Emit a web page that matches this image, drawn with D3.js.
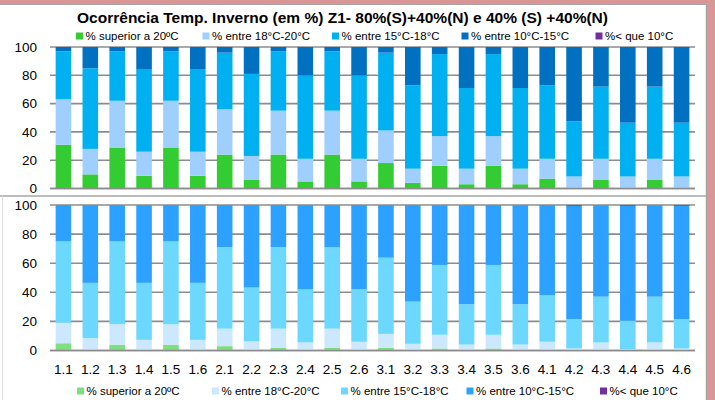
<!DOCTYPE html>
<html><head><meta charset="utf-8">
<script src="https://cdn.jsdelivr.net/npm/d3@7"></script>
<style>
html,body{margin:0;padding:0;background:#d99694;}
svg{display:block;font-family:"Liberation Sans",Arial,sans-serif;}
</style></head>
<body>
<svg id="c" width="715" height="400"></svg>
<script>
const categories = ["1.1","1.2","1.3","1.4","1.5","1.6","2.1","2.2","2.3","2.4","2.5","2.6","3.1","3.2","3.3","3.4","3.5","3.6","4.1","4.2","4.3","4.4","4.5","4.6"];
const seriesNames = ["% superior a 20ºC","% entre 18°C-20°C","% entre 15°C-18°C","% entre 10°C-15°C","%< que 10°C"];
const yTicks = [0,20,40,60,80,100];

// Top chart: 80%(S)+40%(N)
const topSup20  = [31,10,29,9,29,9,24,6,24,5,24,5,18,4,16,3,16,3,7,0.5,6,0.5,6,0.5];
const top18_20  = [32,18,33,17,33,17,32,17,31,16,31,16,23,10,21,11,21,11,14,8,15,8,15,8];
const top15_18  = [34,57,35,58,35,58,40,58,42,59,42,59,55,59,58,57,58,57,52,39,51,38,51,38];
const top10_15  = [3,15,3,16,3,16,4,19,3,20,3,20,4,27,5,29,5,29,27,52.5,28,53.5,28,53.5];
const topLt10   = [0,0,0,0,0,0,0,0,0,0,0,0,0,0,0,0,0,0,0,0,0,0,0,0];

// Bottom chart: 40%(S)+40%(N)
const botSup20  = [5,0.5,4,0.3,4,0.3,3,0.3,2,0.2,2,0.2,2,0.2,1.4,0.2,1.4,0.2,0.2,0.1,0.2,0.1,0.2,0.1];
const bot18_20  = [14,8,14,7,14,7,12,6,13,5.3,13,5.8,9.4,4.4,9.4,3.9,9.4,3.9,5.8,1.3,5.3,0.8,5.3,1.3];
const bot15_18  = [56,38,57,39.2,57,39.2,56,37,56,36.5,56,36,52.4,29,48,27.7,48,27.7,32,20.1,31.5,19.5,31.5,20.1];
const bot10_15  = [25,53.5,25,53.5,25,53.5,29,56.7,29,58,29,58,36.2,66.4,41.2,68.2,41.2,68.2,62,78,63,79.1,63,78];
const botLt10   = [0,0,0,0,0,0,0,0,0,0,0,0,0,0,0,0,0,0,0,0.5,0,0.5,0,0.5];

const topColors = ["#33cc33","#9fcfff","#00b0f0","#0070c0","#7030a0"];
const botColors = ["#7fdf7f","#cce8ff","#6dd8ff","#2ca1ff","#7030a0"];

const svg = d3.select("#c");
// white panels
svg.append("rect").attr("x",0).attr("y",4).attr("width",707).attr("height",396).attr("fill","#fff");
svg.append("line").attr("x1",706.5).attr("x2",706.5).attr("y1",4).attr("y2",400).attr("stroke","#a6a6a6").attr("stroke-width",1.5);
svg.append("line").attr("x1",0).attr("x2",707).attr("y1",4.5).attr("y2",4.5).attr("stroke","#a6a6a6").attr("stroke-width",1);
svg.append("line").attr("x1",0).attr("x2",707).attr("y1",196).attr("y2",196).attr("stroke","#a6a6a6").attr("stroke-width",1.5);
svg.append("line").attr("x1",2.5).attr("x2",2.5).attr("y1",196).attr("y2",400).attr("stroke","#e0e0e0").attr("stroke-width",1);

const x = d3.scaleBand().domain(categories).range([50,695]).paddingInner(0.42).paddingOuter(0.21);

function drawChart(data, colors, y0, y1) {
  const y = d3.scaleLinear().domain([0,100]).range([y0,y1]);
  const g = svg.append("g");
  // gridlines
  g.selectAll("line.grid").data(yTicks).join("line")
    .attr("x1",50).attr("x2",695).attr("y1",d=>y(d)).attr("y2",d=>y(d))
    .attr("stroke","#8c8c8c").attr("stroke-width",1.6);
  // y labels
  const ax = g.append("g").attr("transform","translate(50,0)")
    .call(d3.axisLeft(y).tickValues(yTicks).tickSize(0).tickPadding(13));
  ax.select(".domain").remove();
  ax.selectAll("text").attr("font-size",13.5).attr("fill","#000").attr("font-family","Liberation Sans, Arial, sans-serif");
  const rows = categories.map((c,i)=>{const o={cat:c}; data.forEach((s,k)=>o["s"+k]=s[i]); return o;});
  const stack = d3.stack().keys(data.map((_,k)=>"s"+k))(rows);
  stack.forEach((layer,k)=>{
    g.selectAll(null).data(layer).join("rect")
      .attr("x",d=>x(d.data.cat)).attr("width",x.bandwidth())
      .attr("y",d=>y(d[1])).attr("height",d=>Math.max(0,y(d[0])-y(d[1])))
      .attr("fill",colors[k]);
  });
  // redraw baseline on top
  g.append("line").attr("x1",50).attr("x2",695).attr("y1",y(0)).attr("y2",y(0))
    .attr("stroke","#8c8c8c").attr("stroke-width",1.6);
}

drawChart([topSup20,top18_20,top15_18,top10_15,topLt10], topColors, 188.5, 47);
drawChart([botSup20,bot18_20,bot15_18,bot10_15,botLt10], botColors, 350.5, 205);

// x labels
const xa = svg.append("g").attr("transform","translate(0,351)")
  .call(d3.axisBottom(x).tickSize(0).tickPadding(13));
xa.select(".domain").remove();
xa.selectAll("text").attr("font-size",13.5).attr("fill","#000").attr("font-family","Liberation Sans, Arial, sans-serif");

// title
svg.append("text").attr("x",342.5).attr("y",23).attr("text-anchor","middle")
  .attr("font-size",14.5).attr("font-weight","bold")
  .attr("textLength",531).attr("lengthAdjust","spacingAndGlyphs")
  .text("Ocorrência Temp. Inverno (em %) Z1- 80%(S)+40%(N) e 40% (S) +40%(N)");

// legends
const legTopX = [76,202.5,332,461.5,595.5];
const legBotX = [77,212,341,466.5,600];
function legend(colors, xs, cy) {
  const lg = svg.append("g");
  seriesNames.forEach((n,k)=>{
    lg.append("rect").attr("x",xs[k]).attr("y",cy-3.5).attr("width",7).attr("height",7).attr("fill",colors[k]);
    lg.append("text").attr("x",xs[k]+9.5).attr("y",cy+4).attr("font-size",11.5).attr("fill","#000")
      .attr("font-family","Liberation Sans, Arial, sans-serif").text(n);
  });
}
legend(topColors, legTopX, 36);
legend(botColors, legBotX, 391);
</script>
</body></html>
